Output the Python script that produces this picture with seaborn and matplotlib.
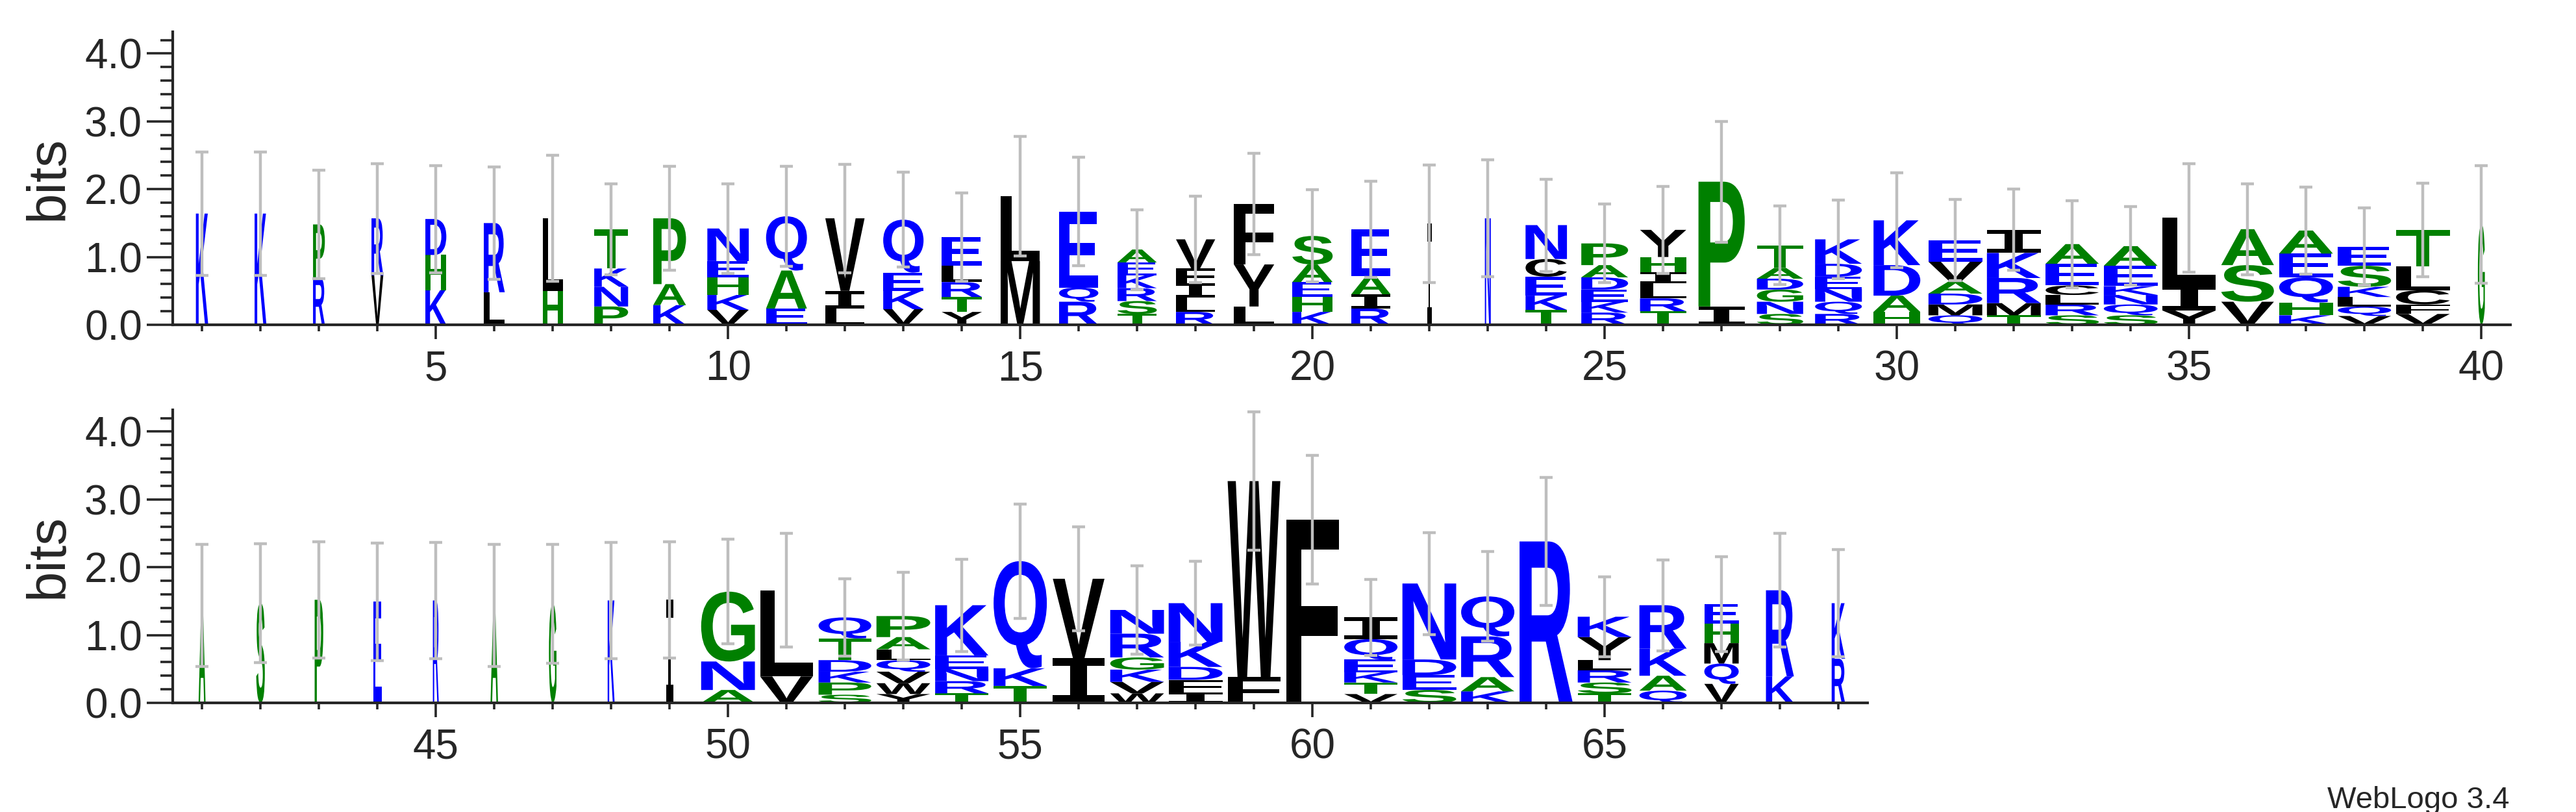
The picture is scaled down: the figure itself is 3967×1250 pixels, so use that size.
import matplotlib
matplotlib.use("Agg")
import matplotlib.pyplot as plt
import seaborn as sns
import numpy as np
from matplotlib.textpath import TextPath
from matplotlib.patches import PathPatch
from matplotlib.font_manager import FontProperties
from matplotlib.transforms import Affine2D
from matplotlib.ticker import MultipleLocator, FormatStrFormatter

sns.set_style("ticks")
plt.rcParams['font.family'] = ['Liberation Sans', 'DejaVu Sans']

# ---------------- data: top row, positions 1-40 (letters bottom -> top) ----------------
pos_top = list(range(1, 41))
letters_top = ["K", "K", "RP", "VR", "KHD", "LR", "HL", "PNKT", "KAP", "VKHEN",
               "EAQ", "LIV", "VKEQ", "YTRLE", "ML", "RQE", "TSRKEA", "RLIFV", "LYF", "KHEAS",
               "RIAE", "I", "N", "TKECN", "RKEDAP", "TRLIHY", "IP", "SNGDAT", "RQNEDK", "HADK",
               "QMDAVE", "TMRKI", "SRLCEA", "SQNKEA", "YIL", "VSA", "KHQEA", "VQLKSE", "VFCLT", "G"]
heights_top = [[1.64], [1.64], [0.70, 0.78], [0.73, 0.84], [0.51, 0.52, 0.53], [0.48, 1.02],
               [0.50, 1.07], [0.27, 0.29, 0.27, 0.58], [0.29, 0.31, 0.97], [0.22, 0.22, 0.26, 0.24, 0.48],
               [0.24, 0.56, 0.80], [0.24, 0.26, 1.07], [0.23, 0.27, 0.27, 0.78], [0.19, 0.22, 0.22, 0.24, 0.42],
               [0.94, 0.96], [0.34, 0.21, 1.12], [0.16, 0.19, 0.19, 0.19, 0.19, 0.19],
               [0.19, 0.21, 0.21, 0.22, 0.43], [0.27, 0.62, 0.89], [0.19, 0.22, 0.22, 0.26, 0.42],
               [0.24, 0.21, 0.27, 0.69], [1.49], [1.57], [0.22, 0.21, 0.28, 0.26, 0.50],
               [0.18, 0.16, 0.18, 0.18, 0.18, 0.32], [0.20, 0.19, 0.22, 0.17, 0.22, 0.40], [0.27, 1.84],
               [0.16, 0.18, 0.18, 0.16, 0.16, 0.33], [0.16, 0.18, 0.19, 0.18, 0.19, 0.36],
               [0.19, 0.24, 0.45, 0.66], [0.14, 0.16, 0.16, 0.18, 0.29, 0.32], [0.14, 0.18, 0.37, 0.37, 0.34],
               [0.14, 0.16, 0.14, 0.14, 0.32, 0.29], [0.14, 0.16, 0.14, 0.13, 0.30, 0.29], [0.21, 0.37, 1.00],
               [0.34, 0.54, 0.53], [0.14, 0.19, 0.37, 0.35, 0.34], [0.13, 0.14, 0.14, 0.15, 0.31, 0.28],
               [0.16, 0.14, 0.21, 0.35, 0.54], [1.48]]
err_top = [0.91, 0.91, 0.80, 0.81, 0.79, 0.83, 0.93, 0.67, 0.77, 0.66, 0.74, 0.80, 0.70, 0.65,
           0.88, 0.80, 0.59, 0.64, 0.75, 0.68, 0.71, 0.87, 0.86, 0.68, 0.58, 0.64, 0.89, 0.58, 0.58,
           0.70, 0.60, 0.60, 0.64, 0.58, 0.80, 0.67, 0.64, 0.57, 0.69, 0.87]
occ_top = [0.23, 0.22, 0.22, 0.22, 0.39, 0.39, 0.37, 0.63, 0.61, 0.77, 0.76, 0.73, 0.75, 0.75,
           0.73, 0.73, 0.73, 0.73, 0.75, 0.75, 0.73, 0.08, 0.11, 0.77, 0.87, 0.86, 0.86, 0.86, 0.87,
           0.87, 1.0, 1.0, 0.99, 1.0, 0.99, 0.98, 1.0, 0.99, 1.0, 0.13]

# ---------------- data: bottom row, positions 41-69 ----------------
pos_bot = list(range(41, 70))
letters_bot = ["A", "S", "P", "E", "R", "A", "G", "K", "I", "ANG", "VL", "SPKDTQ", "YWVQLAP",
               "TRNEK", "TKQ", "IV", "WVKGRN", "IFDKN", "FW", "F", "VTKEQI", "SEDN", "KARQ", "R",
               "TSRLYK", "QAKR", "VQMHE", "KR", "RK"]
heights_bot = [[1.44], [1.47], [1.52], [1.49], [1.51], [1.44], [1.46], [1.51], [1.52],
               [0.19, 0.42, 1.03], [0.39, 1.27], [0.12, 0.18, 0.16, 0.17, 0.32, 0.31],
               [0.13, 0.16, 0.17, 0.17, 0.16, 0.18, 0.31], [0.14, 0.18, 0.18, 0.20, 0.74],
               [0.25, 0.26, 1.58], [0.66, 1.17], [0.14, 0.17, 0.18, 0.18, 0.35, 0.35],
               [0.15, 0.19, 0.19, 0.37, 0.57], [0.38, 2.89], [2.70], [0.13, 0.17, 0.15, 0.19, 0.30, 0.32],
               [0.19, 0.22, 0.23, 1.12], [0.17, 0.21, 0.60, 0.59], [2.38],
               [0.14, 0.16, 0.18, 0.15, 0.34, 0.30], [0.18, 0.22, 0.40, 0.64],
               [0.28, 0.30, 0.30, 0.29, 0.29], [0.39, 1.27], [0.65, 0.82]]
err_bot = [0.90, 0.88, 0.86, 0.87, 0.86, 0.90, 0.88, 0.86, 0.86, 0.77, 0.84, 0.57, 0.65, 0.68,
           0.84, 0.77, 0.65, 0.62, 1.02, 0.95, 0.56, 0.75, 0.66, 0.94, 0.59, 0.67, 0.70, 0.84, 0.79]
occ_bot = [0.13, 0.16, 0.16, 0.16, 0.11, 0.14, 0.14, 0.13, 0.13, 1.0, 0.98, 0.98, 1.0, 0.99,
           0.99, 0.96, 1.0, 1.0, 0.98, 0.98, 0.99, 1.0, 0.99, 0.99, 1.0, 0.88, 0.64, 0.52, 0.25]

BLUE, GREEN, BLACK = "#0000FF", "#008000", "#000000"
color_of = {}
for c in "KRDENQ":
    color_of[c] = BLUE
for c in "PATSGH":
    color_of[c] = GREEN
for c in "LIVMFWYC":
    color_of[c] = BLACK

fp_main = FontProperties(family="Liberation Sans", weight="bold")
fp_I = FontProperties(family="DejaVu Sans Mono", weight="bold")


def draw_letter(ax, ch, x, y0, w, h):
    fp = fp_I if ch == "I" else fp_main
    tp = TextPath((0, 0), ch, size=1, prop=fp)
    ext = tp.get_extents()
    tr = (Affine2D().translate(-ext.x0, -ext.y0)
          .scale(w / ext.width, h / ext.height)
          .translate(x - w / 2, y0))
    path = tr.transform_path(tp)
    ax.add_patch(PathPatch(path, facecolor=color_of.get(ch, BLACK), lw=0, edgecolor="none"))


def draw_logo(ax, pos, letters, heights, errs, occ, xlim):
    tops = []
    for p, ls, hs, o in zip(pos, letters, heights, occ):
        y = 0.0
        for ch, h in zip(ls, hs):
            draw_letter(ax, ch, p, y, 0.92 * o, h)
            y += h
        tops.append(y)
    ax.errorbar(pos, tops, yerr=errs, fmt="none", ecolor="#BEBEBE", elinewidth=3.2,
                capsize=7, capthick=3.2, zorder=5)
    ax.set_xlim(*xlim)
    ax.set_ylim(0, 4.32)
    ax.yaxis.set_major_locator(MultipleLocator(1.0))
    ax.yaxis.set_minor_locator(MultipleLocator(0.2))
    ax.yaxis.set_major_formatter(FormatStrFormatter("%.1f"))
    ax.xaxis.set_major_locator(MultipleLocator(5))
    ax.xaxis.set_minor_locator(MultipleLocator(1))
    ax.tick_params(axis="y", which="major", length=29, width=2.6, labelsize=46, pad=5)
    ax.tick_params(axis="y", which="minor", length=14, width=2.6)
    ax.tick_params(axis="x", which="major", length=16, width=2.6, labelsize=46, pad=12)
    ax.tick_params(axis="x", which="minor", length=7, width=2.6)
    for s in ["top", "right"]:
        ax.spines[s].set_visible(False)
    for s in ["left", "bottom"]:
        ax.spines[s].set_linewidth(3)
    ax.set_ylabel("bits", fontsize=60, labelpad=12)


fig = plt.figure(figsize=(39.67, 12.5), dpi=100)
ax1 = fig.add_axes([0.0671, 0.6, 0.9075, 0.3608])
ax2 = fig.add_axes([0.0671, 0.1344, 0.6579, 0.3608])
draw_logo(ax1, pos_top, letters_top, heights_top, err_top, occ_top, (0.5, 40.5))
draw_logo(ax2, pos_bot, letters_bot, heights_bot, err_bot, occ_bot, (40.5, 69.5))
fig.text(3865 / 3967, 1 - 1244 / 1250, "WebLogo 3.4", ha="right", va="baseline", fontsize=34)
fig.savefig("out.png", dpi=100)
